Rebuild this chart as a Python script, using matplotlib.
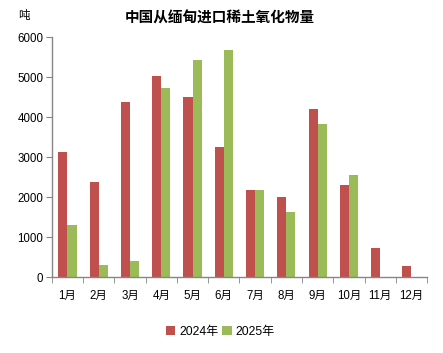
import matplotlib
matplotlib.use("Agg")
import matplotlib.pyplot as plt
import numpy as np

plt.rcParams['font.family'] = ['Liberation Sans', 'Noto Sans CJK SC', 'DejaVu Sans']

months = ["1月", "2月", "3月", "4月", "5月", "6月", "7月", "8月", "9月", "10月", "11月", "12月"]
v2024 = [3130, 2380, 4380, 5030, 4500, 3250, 2180, 2000, 4200, 2300, 730, 280]
v2025 = [1300, 310, 410, 4730, 5430, 5680, 2180, 1630, 3830, 2560, np.nan, np.nan]
yticks = [0, 1000, 2000, 3000, 4000, 5000, 6000]

fig = plt.figure(figsize=(4.43, 3.53), dpi=100)
ax = fig.add_axes([0.117, 0.2145, 0.847, 0.6805])

x = np.arange(len(months))
w = 0.29
ax.bar(x - w / 2, v2024, width=w, color="#C0504D", label="2024年")
ax.bar(x + w / 2, v2025, width=w, color="#9BBB59", label="2025年")

ax.set_xlim(-0.5, len(months) - 0.5)
ax.set_ylim(0, 6000)
ax.set_yticks(yticks)
ax.set_yticklabels([str(t) for t in yticks], fontsize=8.3)
ax.set_xticks(x)
ax.set_xticklabels(months, fontsize=8.3)
ax.set_xticks(np.arange(-0.5, len(months)), minor=True)
ax.tick_params(axis='x', which='major', length=0, pad=9)
ax.tick_params(axis='x', which='minor', length=4, color="#868686", direction='out')
ax.tick_params(axis='y', length=4, color="#868686", direction='out', pad=2)

for s in ['top', 'right']:
    ax.spines[s].set_visible(False)
for s in ['left', 'bottom']:
    ax.spines[s].set_color("#868686")
    ax.spines[s].set_linewidth(1.0)

fig.text(0.497, 0.946, "中国从缅甸进口稀土氧化物量", ha='center', va='center',
         fontsize=10.5, fontweight='bold')
fig.text(0.04, 0.955, "吨", ha='left', va='center', fontsize=8.3)

ax.legend(loc='center', ncol=2, frameon=False, fontsize=8.7, handlelength=0.8,
          handleheight=0.8, handletextpad=0.3, columnspacing=0.3, borderaxespad=0)
leg = ax.get_legend()
leg.set_bbox_to_anchor((0.497, 0.06), transform=fig.transFigure)

fig.savefig("out.png", dpi=100)
